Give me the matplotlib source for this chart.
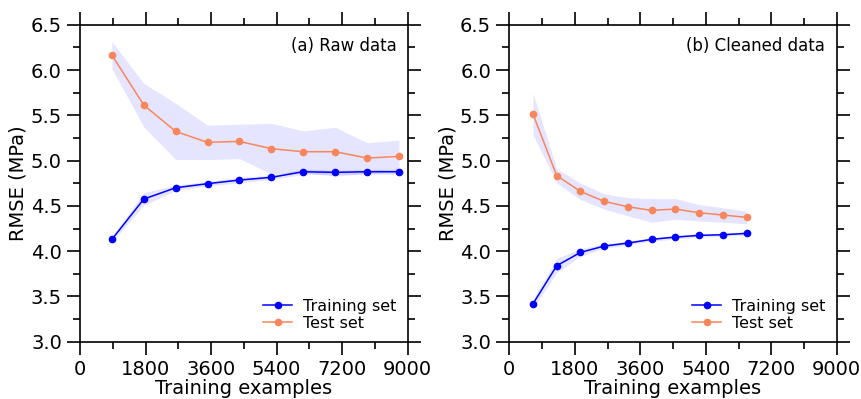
import numpy as np
import matplotlib.pyplot as plt
from matplotlib.ticker import MultipleLocator

# panel (a) raw data
raw_sizes = [876, 1752, 2628, 3504, 4380, 5256, 6132, 7008, 7884, 8760]
raw_train = [4.13, 4.575, 4.70, 4.745, 4.785, 4.815, 4.877, 4.870, 4.877, 4.877]
raw_train_std = [0.03, 0.07, 0.03, 0.025, 0.03, 0.025, 0.03, 0.025, 0.025, 0.03]
raw_test = [6.165, 5.613, 5.322, 5.201, 5.212, 5.131, 5.098, 5.098, 5.028, 5.046]
raw_test_std = [0.15, 0.24, 0.31, 0.19, 0.19, 0.28, 0.23, 0.27, 0.17, 0.18]

# panel (b) cleaned data
clean_sizes = [652, 1304, 1956, 2608, 3260, 3912, 4564, 5216, 5868, 6520]
clean_train = [3.419, 3.839, 3.986, 4.056, 4.089, 4.130, 4.155, 4.174, 4.181, 4.196]
clean_train_std = [0.05, 0.08, 0.04, 0.025, 0.02, 0.02, 0.02, 0.02, 0.02, 0.02]
clean_test = [5.514, 4.833, 4.660, 4.549, 4.490, 4.450, 4.465, 4.424, 4.399, 4.373]
clean_test_std = [0.23, 0.08, 0.09, 0.085, 0.1, 0.13, 0.115, 0.09, 0.08, 0.07]

panels = [
    ("(a) Raw data", raw_sizes, raw_train, raw_train_std, raw_test, raw_test_std),
    ("(b) Cleaned data", clean_sizes, clean_train, clean_train_std, clean_test, clean_test_std),
]

fig = plt.figure(figsize=(8.62, 3.99), dpi=100)
boxes = [[0.0928, 0.1436, 0.3802, 0.7944], [0.5908, 0.1436, 0.3799, 0.7944]]

for box, (title, sizes, tr, tr_std, te, te_std) in zip(boxes, panels):
    ax = fig.add_axes(box)
    sizes = np.array(sizes)
    tr, tr_std = np.array(tr), np.array(tr_std)
    te, te_std = np.array(te), np.array(te_std)
    ax.fill_between(sizes, tr - tr_std, tr + tr_std, color='blue', alpha=0.1, lw=0)
    ax.fill_between(sizes, te - te_std, te + te_std, color='blue', alpha=0.1, lw=0)
    ax.plot(sizes, tr, '-o', color='blue', ms=4.5, lw=1.1, label='Training set')
    ax.plot(sizes, te, '-o', color='#f9865a', ms=4.5, lw=1.1, label='Test set')
    ax.set_xlim(0, 9000)
    ax.set_ylim(3.0, 6.5)
    ax.xaxis.set_major_locator(MultipleLocator(1800))
    ax.xaxis.set_minor_locator(MultipleLocator(900))
    ax.yaxis.set_major_locator(MultipleLocator(0.5))
    ax.yaxis.set_minor_locator(MultipleLocator(0.25))
    ax.yaxis.set_major_formatter(plt.FormatStrFormatter('%.1f'))
    ax.tick_params(which='both', direction='out', top=True, right=True, labelsize=14, width=1.2)
    ax.tick_params(which='major', length=9.5)
    ax.tick_params(which='minor', length=5)
    for s in ax.spines.values():
        s.set_linewidth(1.2)
    ax.set_xlabel('Training examples', fontsize=14, labelpad=0)
    ax.set_ylabel('RMSE (MPa)', fontsize=14, labelpad=2)
    ax.text(0.965, 0.96, title, transform=ax.transAxes, ha='right', va='top', fontsize=12)
    ax.legend(loc='lower right', frameon=False, fontsize=11.5, handlelength=1.8,
              borderaxespad=0.3, labelspacing=0.1, handletextpad=0.7)

fig.savefig('out.png', dpi=100)
